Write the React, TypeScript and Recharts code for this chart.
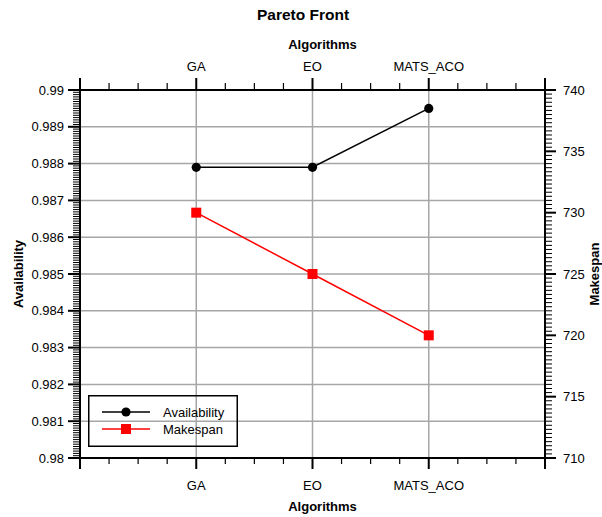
import React from 'react';
import { LineChart, Line, XAxis, YAxis, CartesianGrid, Legend } from 'recharts';

const categories = ['GA', 'EO', 'MATS_ACO'];
const categoryPositions = [1, 2, 3];
const availability = [0.9879, 0.9879, 0.9895];
const makespan = [730, 725, 720];

const availabilityTicks = [0.98, 0.981, 0.982, 0.983, 0.984, 0.985, 0.986, 0.987, 0.988, 0.989, 0.99];
const makespanTicks = [710, 715, 720, 725, 730, 735, 740];
const xMajorTicks = [0, 1, 2, 3, 4];

const X_MINOR_PER_MAJOR = 4;
const LEFT_MINOR_PER_MAJOR = 16;
const RIGHT_MINOR_PER_MAJOR = 15;

const FONT = '"Liberation Sans", Arial, Helvetica, sans-serif';

const data = categories.map((c, i) => ({
  name: c,
  x: categoryPositions[i],
  availability: availability[i],
  makespan: makespan[i],
}));

function subdivide(major: number[], n: number): number[] {
  const out: number[] = [];
  for (let i = 0; i < major.length - 1; i++) {
    for (let k = 0; k < n; k++) {
      out.push(major[i] + ((major[i + 1] - major[i]) * k) / n);
    }
  }
  out.push(major[major.length - 1]);
  return out;
}

const xAllTicks = subdivide(xMajorTicks, X_MINOR_PER_MAJOR);
const leftAllTicks = subdivide(availabilityTicks, LEFT_MINOR_PER_MAJOR);
const rightAllTicks = subdivide(makespanTicks, RIGHT_MINOR_PER_MAJOR);

const catLabel = (v: number) => {
  const i = categoryPositions.indexOf(Math.round(v * 1000) / 1000);
  return i >= 0 ? categories[i] : '';
};

const MAJOR_W = 2;
const MINOR_W = 1.2;

const BottomTick = (props: any) => {
  const { x, y, index, payload } = props;
  const major = index % X_MINOR_PER_MAJOR === 0;
  const label = major ? catLabel(payload.value) : '';
  return (
    <g>
      <line x1={x} x2={x} y1={y} y2={y + (major ? 11 : 6)} stroke="#000" strokeWidth={major ? MAJOR_W : MINOR_W} />
      {label && (
        <text x={x} y={y + 32} textAnchor="middle" fontSize={13} fontFamily={FONT} fill="#000">
          {label}
        </text>
      )}
    </g>
  );
};

const TopTick = (props: any) => {
  const { x, y, index, payload } = props;
  const major = index % X_MINOR_PER_MAJOR === 0;
  const label = major ? catLabel(payload.value) : '';
  return (
    <g>
      <line x1={x} x2={x} y1={y} y2={y - (major ? 12 : 7)} stroke="#000" strokeWidth={major ? MAJOR_W : MINOR_W} />
      {label && (
        <text x={x} y={y - 19} textAnchor="middle" fontSize={13} fontFamily={FONT} fill="#000">
          {label}
        </text>
      )}
    </g>
  );
};

const LeftTick = (props: any) => {
  const { x, y, index, payload } = props;
  const major = index % LEFT_MINOR_PER_MAJOR === 0;
  return (
    <g>
      <line x1={x} x2={x - (major ? 12 : 7)} y1={y} y2={y} stroke="#000" strokeWidth={major ? MAJOR_W : 1} />
      {major && (
        <text x={x - 16} y={y} dy="0.36em" textAnchor="end" fontSize={13} fontFamily={FONT} fill="#000">
          {String(parseFloat(Number(payload.value).toFixed(4)))}
        </text>
      )}
    </g>
  );
};

const RightTick = (props: any) => {
  const { x, y, index, payload } = props;
  const major = index % RIGHT_MINOR_PER_MAJOR === 0;
  return (
    <g>
      <line x1={x} x2={x + (major ? 11 : 7)} y1={y} y2={y} stroke="#000" strokeWidth={major ? MAJOR_W : 1} />
      {major && (
        <text x={x + 18} y={y} dy="0.36em" textAnchor="start" fontSize={13} fontFamily={FONT} fill="#000">
          {String(Math.round(Number(payload.value)))}
        </text>
      )}
    </g>
  );
};

const SquareDot = (props: any) => {
  const { cx, cy, index } = props;
  if (cx == null || cy == null) return <g key={`sq-${index}`} />;
  return <rect key={`sq-${index}`} x={cx - 5} y={cy - 5} width={10} height={10} fill="#ff0000" stroke="none" />;
};

const CircleDot = (props: any) => {
  const { cx, cy, index } = props;
  if (cx == null || cy == null) return <g key={`c-${index}`} />;
  return <circle key={`c-${index}`} cx={cx} cy={cy} r={4.6} fill="#000" stroke="none" />;
};

const LegendContent = () => (
  <svg width={150} height={52} style={{ display: 'block', overflow: 'visible' }}>
    <rect x={0.75} y={0.75} width={148.5} height={50.5} fill="none" stroke="#000" strokeWidth={1.5} />
    <line x1={14} x2={62} y1={17} y2={17} stroke="#000" strokeWidth={1.5} />
    <circle cx={38} cy={17} r={4.6} fill="#000" />
    <text x={75} y={17} dy="0.36em" fontSize={13} fontFamily={FONT} fill="#000">
      Availability
    </text>
    <line x1={14} x2={62} y1={34} y2={34} stroke="#ff0000" strokeWidth={1.5} />
    <rect x={33} y={29} width={10} height={10} fill="#ff0000" />
    <text x={75} y={34} dy="0.36em" fontSize={13} fontFamily={FONT} fill="#000">
      Makespan
    </text>
  </svg>
);

const TITLE_CENTER_X = 322.5;

export default function App() {
  return (
    <div style={{ position: 'absolute', left: 0, top: 0, width: 602, height: 517, background: '#fff' }}>
      <div
        style={{
          position: 'absolute',
          left: 0,
          top: 7,
          width: 606,
          textAlign: 'center',
          fontFamily: FONT,
          fontWeight: 'bold',
          fontSize: 15.5,
          lineHeight: '16px',
          color: '#000',
        }}
      >
        Pareto Front
      </div>
      <LineChart
        width={602}
        height={517}
        data={data}
        margin={{ top: 0, right: 0, bottom: 0, left: 0 }}
        style={{ position: 'absolute', left: 0, top: 0 }}
      >
        <CartesianGrid
          xAxisId="bottom"
          yAxisId="left"
          horizontalValues={availabilityTicks.slice(1, -1)}
          verticalValues={categoryPositions}
          stroke="#a6a6a6"
          strokeWidth={1.5}
        />
        <XAxis
          xAxisId="bottom"
          orientation="bottom"
          type="number"
          dataKey="x"
          domain={[0, 4]}
          allowDataOverflow
          ticks={xAllTicks}
          interval={0}
          height={59}
          tickSize={0}
          tickMargin={0}
          tickLine={false}
          axisLine={{ stroke: '#000', strokeWidth: 2 }}
          tick={BottomTick}
          label={{
            content: (p: any) => {
              const vb = p.viewBox || { x: 80, y: 458, width: 465, height: 59 };
              return (
                <text x={TITLE_CENTER_X} y={vb.y + 53} textAnchor="middle" fontSize={13} fontWeight="bold" fontFamily={FONT} fill="#000">
                  Algorithms
                </text>
              );
            },
          }}
        />
        <XAxis
          xAxisId="top"
          orientation="top"
          type="number"
          dataKey="x"
          domain={[0, 4]}
          allowDataOverflow
          ticks={xAllTicks}
          interval={0}
          height={90}
          tickSize={0}
          tickMargin={0}
          tickLine={false}
          axisLine={{ stroke: '#000', strokeWidth: 2 }}
          tick={TopTick}
          label={{
            content: (p: any) => {
              const vb = p.viewBox || { x: 80, y: 0, width: 465, height: 90 };
              return (
                <text x={TITLE_CENTER_X} y={vb.y + 49} textAnchor="middle" fontSize={13} fontWeight="bold" fontFamily={FONT} fill="#000">
                  Algorithms
                </text>
              );
            },
          }}
        />
        <YAxis
          yAxisId="left"
          orientation="left"
          type="number"
          domain={[0.98, 0.99]}
          allowDataOverflow
          ticks={leftAllTicks}
          interval={0}
          width={80}
          tickSize={0}
          tickMargin={0}
          tickLine={false}
          axisLine={{ stroke: '#000', strokeWidth: 2 }}
          tick={LeftTick}
          label={{
            content: (p: any) => {
              const vb = p.viewBox || { x: 0, y: 90, width: 80, height: 368 };
              const cx = vb.x + 23;
              const cy = vb.y + vb.height / 2;
              return (
                <text x={cx} y={cy} transform={`rotate(-90, ${cx}, ${cy})`} textAnchor="middle" fontSize={13} fontWeight="bold" fontFamily={FONT} fill="#000">
                  Availability
                </text>
              );
            },
          }}
        />
        <YAxis
          yAxisId="right"
          orientation="right"
          type="number"
          domain={[710, 740]}
          allowDataOverflow
          ticks={rightAllTicks}
          interval={0}
          width={57}
          tickSize={0}
          tickMargin={0}
          tickLine={false}
          axisLine={{ stroke: '#000', strokeWidth: 2 }}
          tick={RightTick}
          label={{
            content: (p: any) => {
              const vb = p.viewBox || { x: 545, y: 90, width: 57, height: 368 };
              const cx = vb.x + 54;
              const cy = vb.y + vb.height / 2;
              return (
                <text x={cx} y={cy} transform={`rotate(-90, ${cx}, ${cy})`} textAnchor="middle" fontSize={13} fontWeight="bold" fontFamily={FONT} fill="#000">
                  Makespan
                </text>
              );
            },
          }}
        />
        <Line
          xAxisId="bottom"
          yAxisId="left"
          type="linear"
          dataKey="availability"
          name="Availability"
          stroke="#000"
          strokeWidth={1.5}
          dot={CircleDot}
          activeDot={false}
          isAnimationActive={false}
        />
        <Line
          xAxisId="bottom"
          yAxisId="right"
          type="linear"
          dataKey="makespan"
          name="Makespan"
          stroke="#ff0000"
          strokeWidth={1.5}
          dot={SquareDot}
          activeDot={false}
          isAnimationActive={false}
        />
        <Legend
          layout="vertical"
          align="center"
          verticalAlign="middle"
          content={LegendContent}
          wrapperStyle={{ position: 'absolute', left: 88, top: 395, width: 150, height: 52 }}
        />
      </LineChart>
    </div>
  );
}
